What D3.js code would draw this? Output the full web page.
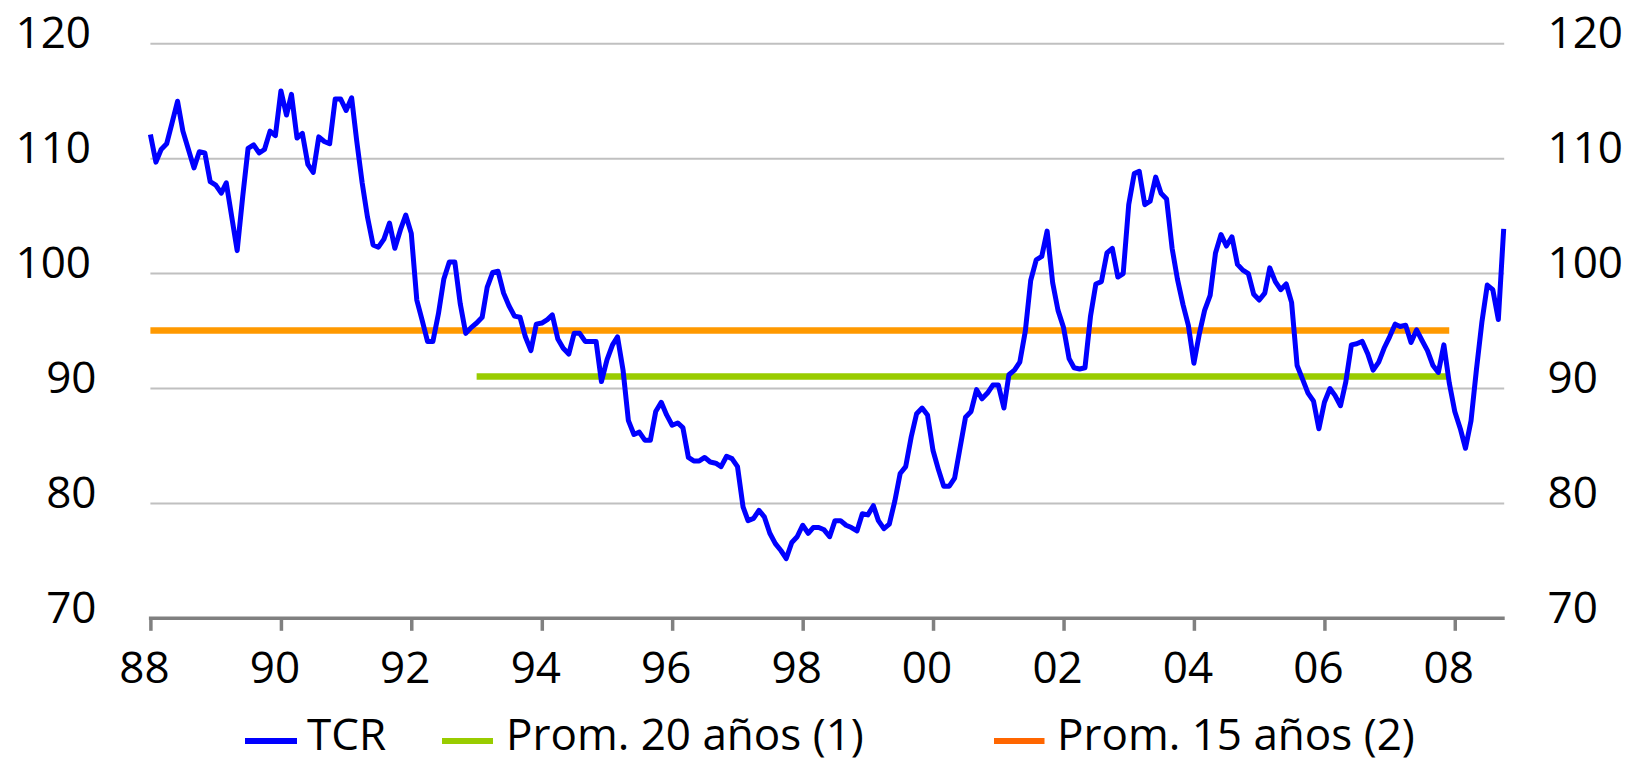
<!DOCTYPE html>
<html>
<head>
<meta charset="utf-8">
<script src="https://cdn.jsdelivr.net/npm/d3@7/dist/d3.min.js"></script>
<style>
  html, body { margin: 0; padding: 0; background: #ffffff; }
  svg { display: block; }
  text { font-family: "Open Sans", "Noto Sans", sans-serif; fill: #000; }
</style>
</head>
<body>
<svg id="chart" width="1631" height="765"></svg>
<script>
// ---- data (monthly TCR index) ----
const tcrStart = "1988-01";
const tcrValues = [
  112.1, 109.7, 110.8, 111.3, 113.1, 115.0, 112.4, 110.8, 109.2, 110.6, 110.5, 108.0,
  107.7, 107.0, 107.9, 104.9, 102.0, 106.7, 110.9, 111.2, 110.5, 110.8, 112.4, 112.0,
  115.9, 113.8, 115.6, 111.8, 112.2, 109.5, 108.8, 111.9, 111.5, 111.3, 115.2, 115.2,
  114.2, 115.3, 111.6, 107.9, 104.9, 102.5, 102.3, 103.0, 104.4, 102.2, 103.8, 105.1,
  103.5, 97.7, 96.0, 94.1, 94.1, 96.5, 99.5, 101.0, 101.0, 97.4, 94.8, 95.3,
  95.7, 96.2, 98.8, 100.1, 100.2, 98.3, 97.2, 96.3, 96.2, 94.5, 93.3, 95.6,
  95.7, 96.0, 96.4, 94.3, 93.5, 93.0, 94.8, 94.8, 94.1, 94.1, 94.1, 90.6,
  92.5, 93.8, 94.5, 91.6, 87.2, 86.0, 86.2, 85.5, 85.5, 88.0, 88.8, 87.7,
  86.8, 87.0, 86.6, 84.0, 83.7, 83.7, 84.0, 83.6, 83.5, 83.2, 84.1, 83.9,
  83.2, 79.7, 78.5, 78.7, 79.4, 78.8, 77.4, 76.5, 75.9, 75.2, 76.6, 77.1,
  78.1, 77.4, 77.9, 77.9, 77.7, 77.1, 78.5, 78.5, 78.1, 77.9, 77.6, 79.1,
  79.0, 79.8, 78.5, 77.8, 78.2, 80.2, 82.6, 83.2, 85.8, 87.8, 88.3, 87.7,
  84.6, 82.9, 81.5, 81.5, 82.2, 84.9, 87.5, 88.0, 89.9, 89.1, 89.6, 90.3,
  90.3, 88.3, 91.2, 91.6, 92.3, 95.0, 99.4, 101.2, 101.5, 103.7, 99.2, 96.8,
  95.3, 92.6, 91.8, 91.7, 91.8, 96.3, 99.1, 99.3, 101.8, 102.2, 99.7, 100.0,
  106.0, 108.7, 108.9, 106.0, 106.3, 108.4, 107.0, 106.5, 102.2, 99.5, 97.3, 95.5,
  92.2, 94.8, 96.8, 98.1, 101.8, 103.4, 102.4, 103.2, 100.8, 100.3, 100.0, 98.2,
  97.7, 98.3, 100.5, 99.3, 98.6, 99.1, 97.5, 92.0, 90.8, 89.6, 88.9, 86.5,
  88.8, 90.0, 89.4, 88.5, 90.6, 93.8, 93.9, 94.1, 93.0, 91.6, 92.3, 93.5,
  94.5, 95.6, 95.4, 95.5, 94.0, 95.1, 94.2, 93.3, 92.0, 91.4, 93.8, 90.5,
  88.0, 86.5, 84.8, 87.2, 91.6, 95.8, 99.0, 98.6, 96.0, 103.9
];

// averages
const avg20Range = ["1993-01", "2007-12"];
const avg20Value = 91.05;
const avg15Range = ["1988-01", "2007-12"];
const avg15Value = 95.05;

const yTicks = [70, 80, 90, 100, 110, 120];
const xTickYears = [1988, 1990, 1992, 1994, 1996, 1998, 2000, 2002, 2004, 2006, 2008];

const seriesNames = ["TCR", "Prom. 20 años (1)", "Prom. 15 años (2)"];
const seriesColors = { line: ["#0000FF", "#99CC00", "#FF9900"], legend: ["#0000FF", "#99CC00", "#FF6600"] };

// ---- drawing ----
const parseM = d3.timeParse("%Y-%m");
const start = parseM(tcrStart);
const tcr = tcrValues.map((v, i) => ({ date: d3.timeMonth.offset(start, i), value: v }));

const svg = d3.select("#chart");
svg.append("rect").attr("width", 1631).attr("height", 765).attr("fill", "#fff");

const x = d3.scaleTime()
  .domain([start, tcr[tcr.length - 1].date])
  .range([150.4, 1503.7]);
const y = d3.scaleLinear().domain([70, 120]).range([618.3, 43.8]);

// gridlines
svg.append("g").selectAll("line")
  .data(yTicks.filter(t => t > 70))
  .join("line")
  .attr("x1", x.range()[0]).attr("x2", x.range()[1] + 0.5)
  .attr("y1", d => y(d)).attr("y2", d => y(d))
  .attr("stroke", "#C0C0C0").attr("stroke-width", 2);

// y labels left & right
svg.append("g").selectAll("text")
  .data(yTicks).join("text")
  .attr("x", d => 91 + (3 - String(d).length) * 5.5)
  .attr("y", d => y(d) + 4.5)
  .attr("text-anchor", "end")
  .attr("font-size", 44)
  .text(d => d);
svg.append("g").selectAll("text")
  .data(yTicks).join("text")
  .attr("x", 1547.5)
  .attr("y", d => y(d) + 4.5)
  .attr("text-anchor", "start")
  .attr("font-size", 44)
  .text(d => d);

// averages
const avgLines = [
  { r: avg15Range, v: avg15Value, c: seriesColors.line[2] },
  { r: avg20Range, v: avg20Value, c: seriesColors.line[1] }
];
svg.append("g").selectAll("line")
  .data(avgLines).join("line")
  .attr("x1", d => x(parseM(d.r[0])))
  .attr("x2", d => x(parseM(d.r[1])))
  .attr("y1", d => y(d.v)).attr("y2", d => y(d.v))
  .attr("stroke", d => d.c).attr("stroke-width", 6.5);

// TCR line
svg.append("path")
  .datum(tcr)
  .attr("fill", "none")
  .attr("stroke", seriesColors.line[0])
  .attr("stroke-width", 5)
  .attr("stroke-linejoin", "round")
  .attr("d", d3.line().x(d => x(d.date)).y(d => y(d.value)));

// x axis
const xAxis = d3.axisBottom(x)
  .tickValues(xTickYears.map(yr => new Date(yr, 0, 1)))
  .tickSize(12.5)
  .tickSizeOuter(0)
  .tickFormat(d3.timeFormat("%y"));
const gx = svg.append("g").attr("transform", `translate(0,${y(70)})`).call(xAxis);
gx.select(".domain").attr("stroke", "#808080").attr("stroke-width", 3.5)
  .attr("d", `M${x.range()[0] - 1.5},0H${x.range()[1] + 1}`);
gx.selectAll(".tick line").attr("stroke", "#808080").attr("stroke-width", 3.5);
gx.selectAll(".tick text")
  .attr("y", 683 - y(70)).attr("dy", null).attr("x", -6.5)
  .attr("font-size", 44).attr("font-family", "Open Sans, sans-serif").attr("fill", "#000");

// legend
const legendItems = [
  { x1: 245, x2: 297, tx: 307 },
  { x1: 442, x2: 493, tx: 506 },
  { x1: 994, x2: 1044.5, tx: 1057 }
];
const lg = svg.append("g");
lg.selectAll("line").data(seriesNames).join("line")
  .attr("x1", (d, i) => legendItems[i].x1).attr("x2", (d, i) => legendItems[i].x2)
  .attr("y1", 741).attr("y2", 741)
  .attr("stroke", (d, i) => seriesColors.legend[i]).attr("stroke-width", 6);
lg.selectAll("text").data(seriesNames).join("text")
  .attr("x", (d, i) => legendItems[i].tx).attr("y", 750)
  .attr("font-size", 44)
  .text(d => d);
</script>
</body>
</html>
